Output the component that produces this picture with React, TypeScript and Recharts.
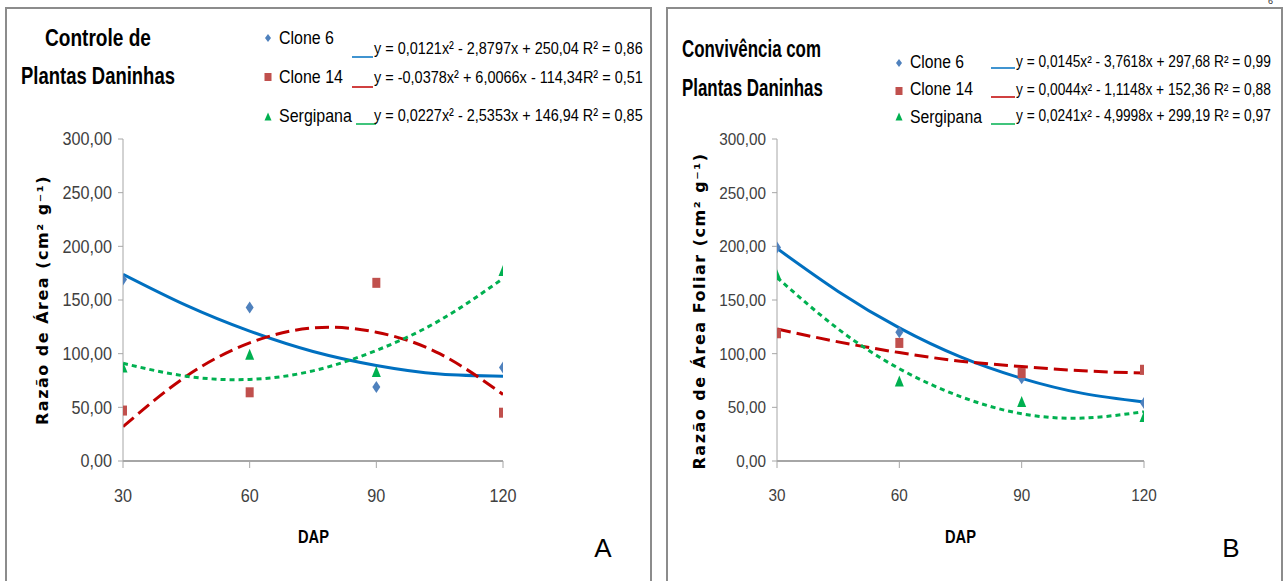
import React, { useLayoutEffect, useRef, useState } from 'react';
import { ComposedChart, Line, Scatter, XAxis, YAxis } from 'recharts';

// ---------- data ----------
const DAP_TICKS = [30, 60, 90, 120];
const Y_TICKS = [0, 50, 100, 150, 200, 250, 300];
const TREND_DAP = [30, 45, 60, 75, 90, 105, 120];
const SERIES = ['Clone 6', 'Clone 14', 'Sergipana'];

// Panel A – Controle de Plantas Daninhas (observed)
const A_CLONE6 = [169, 143, 69, 87];
const A_CLONE14 = [47, 64, 166, 45];
const A_SERGIPANA = [87, 99, 83, 177];
// Panel A – fitted curves
const A_CLONE6_FIT = [174, 145, 121, 102, 89, 81, 79];
const A_CLONE14_FIT = [32, 79, 110, 124, 120, 100, 62];
const A_SERGIPANA_FIT = [91, 79, 76, 84, 103, 131, 170];

// Panel B – Convivência com Plantas Daninhas (observed)
const B_CLONE6 = [199, 120, 77, 54];
const B_CLONE14 = [119, 110, 82, 85];
const B_SERGIPANA = [173, 74, 55, 41];
// Panel B – fitted curves
const B_CLONE6_FIT = [198, 158, 124, 97, 77, 63, 55];
const B_CLONE14_FIT = [123, 111, 101, 93, 88, 84, 82];
const B_SERGIPANA_FIT = [171, 123, 86, 60, 44, 40, 46];

const EQ_A = [
  'y = 0,0121x² - 2,8797x + 250,04 R² = 0,86',
  'y = -0,0378x² + 6,0066x - 114,34R² = 0,51',
  'y = 0,0227x² - 2,5353x + 146,94 R² = 0,85',
];
const EQ_B = [
  'y = 0,0145x² - 3,7618x + 297,68 R² = 0,99',
  'y = 0,0044x² - 1,1148x + 152,36 R² = 0,88',
  'y = 0,0241x² - 4,9998x + 299,19 R² = 0,97',
];

// ---------- styles ----------
const SANS = "'Liberation Sans', Arial, sans-serif";
const WIDE_BOLD = "'DejaVu Sans', Verdana, sans-serif";
const LINE_COLORS = ['#0070C0', '#C00000', '#00B050'];
const MARK_COLORS = ['#4F81BD', '#C0504D', '#00B050'];
const DASHES = [undefined, '14 6', '5 4'];
const AXIS_COLOR = '#A6A6A6';

const Diamond = (p: any) => (
  <path d={`M${p.cx},${p.cy - 6} L${p.cx + 4},${p.cy} L${p.cx},${p.cy + 6} L${p.cx - 4},${p.cy} Z`} fill={MARK_COLORS[0]} />
);
const Square = (p: any) => <rect x={p.cx - 4} y={p.cy - 5} width={8} height={10} fill={MARK_COLORS[1]} />;
const Triangle = (p: any) => (
  <path d={`M${p.cx},${p.cy - 6} L${p.cx + 4.5},${p.cy + 5} L${p.cx - 4.5},${p.cy + 5} Z`} fill={MARK_COLORS[2]} />
);
const SHAPES = [Diamond, Square, Triangle];

const fmt = (v: number) => v.toFixed(2).replace('.', ',');

// condensed tick text (horizontally squeezed sans)
function NarrowTick(props: any) {
  const { x, y, payload, fontSize, anchor, dy, sx, format } = props;
  const label = format ? format(payload.value) : String(payload.value);
  return (
    <g transform={`translate(${x},${y}) scale(${sx},1)`}>
      <text x={0} y={0} dy={dy} textAnchor={anchor} fontFamily={SANS} fontSize={fontSize} fill="#404040">
        {label}
      </text>
    </g>
  );
}

type PanelProps = {
  left: number;
  width: number;
  yAxisWidth: number;
  rightMargin: number;
  fontSize: number;
  sx: number;
  obs: number[][];
  fit: number[][];
};

function Panel({ left, width, yAxisWidth, rightMargin, fontSize, sx, obs, fit }: PanelProps) {
  const obsData = DAP_TICKS.map((x, i) => ({ x, s0: obs[0][i], s1: obs[1][i], s2: obs[2][i] }));
  const fitData = TREND_DAP.map((x, i) => ({ x, s0: fit[0][i], s1: fit[1][i], s2: fit[2][i] }));
  return (
    <div style={{ position: 'absolute', left, top: 0 }}>
      <ComposedChart
        width={width}
        height={581}
        data={fitData}
        margin={{ top: 139, right: rightMargin, bottom: 60, left: 0 }}
      >
        <XAxis
          type="number"
          dataKey="x"
          domain={[30, 120]}
          ticks={DAP_TICKS}
          allowDataOverflow
          height={60}
          tickSize={7}
          tickMargin={21}
          axisLine={{ stroke: AXIS_COLOR, strokeWidth: 2 }}
          tickLine={{ stroke: AXIS_COLOR }}
          tick={(p: any) => <NarrowTick {...p} fontSize={fontSize} sx={sx} anchor="middle" dy="0.71em" />}
        />
        <YAxis
          type="number"
          domain={[0, 300]}
          ticks={Y_TICKS}
          width={yAxisWidth}
          tickSize={5}
          tickMargin={6}
          axisLine={{ stroke: AXIS_COLOR }}
          tickLine={{ stroke: AXIS_COLOR }}
          tick={(p: any) => <NarrowTick {...p} fontSize={fontSize} sx={sx} anchor="end" dy="0.355em" format={fmt} />}
        />
        {[0, 1, 2].map((k) => (
          <Scatter
            key={'sc' + k}
            name={SERIES[k]}
            data={obsData}
            dataKey={'s' + k}
            shape={SHAPES[k]}
            isAnimationActive={false}
          />
        ))}
        {[0, 1, 2].map((k) => (
          <Line
            key={'ln' + k}
            data={fitData}
            dataKey={'s' + k}
            type="natural"
            stroke={LINE_COLORS[k]}
            strokeWidth={3}
            strokeDasharray={DASHES[k]}
            dot={false}
            activeDot={false}
            isAnimationActive={false}
          />
        ))}
      </ComposedChart>
    </div>
  );
}

function LegendMark({ k, x, y }: { k: number; x: number; y: number }) {
  if (k === 0) return <path d={`M${x},${y - 4} L${x + 3},${y} L${x},${y + 4} L${x - 3},${y} Z`} fill={MARK_COLORS[0]} />;
  if (k === 1) return <rect x={x - 3.5} y={y - 4} width={7} height={8} fill={MARK_COLORS[1]} />;
  return <path d={`M${x},${y - 4.5} L${x + 3.5},${y + 3.5} L${x - 3.5},${y + 3.5} Z`} fill={MARK_COLORS[2]} />;
}

// text squeezed horizontally to a target width (emulates the condensed font)
function FitText({ x, y, w, size, bold, children }: any) {
  const ref = useRef<SVGTextElement>(null);
  const [s, setS] = useState(1);
  useLayoutEffect(() => {
    const el = ref.current;
    if (el) {
      const n = el.getComputedTextLength();
      if (n > 0) setS(w / n);
    }
  }, [w]);
  return (
    <g transform={`translate(${x},${y}) scale(${s},1)`}>
      <text ref={ref} x={0} y={0} fontFamily={SANS} fontSize={size} fontWeight={bold ? 'bold' : 'normal'} fill="#000">
        {children}
      </text>
    </g>
  );
}

function Overlay() {
  const legA = [
    { my: 38, ty: 44, uy: 57, ux: [352, 373], ey: 54 },
    { my: 77, ty: 83, uy: 87, ux: [352, 373], ey: 83 },
    { my: 117, ty: 122, uy: 124, ux: [356, 376], ey: 121 },
  ];
  const legB = [
    { my: 63, ty: 68, uy: 68, ux: [991, 1015], ey: 67 },
    { my: 91, ty: 95, uy: 97, ux: [991, 1015], ey: 95 },
    { my: 117, ty: 123, uy: 124, ux: [991, 1015], ey: 121 },
  ];
  const nameW = [55, 64, 73];
  return (
    <svg width={1285} height={581} style={{ position: 'absolute', left: 0, top: 0, pointerEvents: 'none' }}>
      {/* panel frames */}
      <path d="M6,581 V8 H651 V581" fill="none" stroke="#8C8C8C" strokeWidth={2} />
      <path d="M667,581 V8 H1282 V581" fill="none" stroke="#8C8C8C" strokeWidth={2} />
      <text x={1268} y={4} fontSize={9} fontFamily={SANS} fill="#333">6</text>

      {/* titles */}
      <FitText x={45} y={46} w={106} size={24} bold>Controle de</FitText>
      <FitText x={21} y={84} w={154} size={24} bold>Plantas Daninhas</FitText>
      <FitText x={682} y={57} w={139} size={24} bold>Convivência com</FitText>
      <FitText x={682} y={96} w={141} size={24} bold>Plantas Daninhas</FitText>

      {/* legend A */}
      {legA.map((r, k) => (
        <g key={'la' + k}>
          <LegendMark k={k} x={268} y={r.my} />
          <FitText x={279} y={r.ty} w={nameW[k]} size={19}>{SERIES[k]}</FitText>
          <line x1={r.ux[0]} x2={r.ux[1]} y1={r.uy} y2={r.uy} stroke={LINE_COLORS[k]} strokeWidth={1.5} />
          <FitText x={374} y={r.ey} w={269} size={17}>{EQ_A[k]}</FitText>
        </g>
      ))}
      {/* legend B */}
      {legB.map((r, k) => (
        <g key={'lb' + k}>
          <LegendMark k={k} x={899} y={r.my} />
          <FitText x={910} y={r.ty} w={nameW[k] - 1} size={19}>{SERIES[k]}</FitText>
          <line x1={r.ux[0]} x2={r.ux[1]} y1={r.uy} y2={r.uy} stroke={LINE_COLORS[k]} strokeWidth={1.5} />
          <FitText x={1016} y={r.ey} w={255} size={16.5}>{EQ_B[k]}</FitText>
        </g>
      ))}

      {/* axis titles */}
      <g fontFamily={WIDE_BOLD} fontWeight="bold" fontSize={16} letterSpacing={1.5} fill="#000" textAnchor="middle">
        <text transform="translate(48,300) rotate(-90)">Razão de Área (cm² g⁻¹)</text>
        <text transform="translate(705,311) rotate(-90)">Razão de Área Foliar (cm² g⁻¹)</text>
      </g>
      <FitText x={298} y={543} w={31} size={18} bold>DAP</FitText>
      <FitText x={945} y={543} w={31} size={18} bold>DAP</FitText>
      <g fontFamily={SANS} fontSize={26} fill="#000" textAnchor="middle">
        <text x={603} y={557}>A</text>
        <text x={1231} y={557}>B</text>
      </g>
    </svg>
  );
}

export default function App() {
  return (
    <div style={{ position: 'absolute', left: 0, top: 0, width: 1285, height: 581, background: '#fff', overflow: 'hidden' }}>
      <Panel
        left={0}
        width={660}
        yAxisWidth={123}
        rightMargin={157}
        fontSize={18}
        sx={0.9}
        obs={[A_CLONE6, A_CLONE14, A_SERGIPANA]}
        fit={[A_CLONE6_FIT, A_CLONE14_FIT, A_SERGIPANA_FIT]}
      />
      <Panel
        left={660}
        width={625}
        yAxisWidth={117}
        rightMargin={141}
        fontSize={17}
        sx={0.9}
        obs={[B_CLONE6, B_CLONE14, B_SERGIPANA]}
        fit={[B_CLONE6_FIT, B_CLONE14_FIT, B_SERGIPANA_FIT]}
      />
      <Overlay />
    </div>
  );
}
